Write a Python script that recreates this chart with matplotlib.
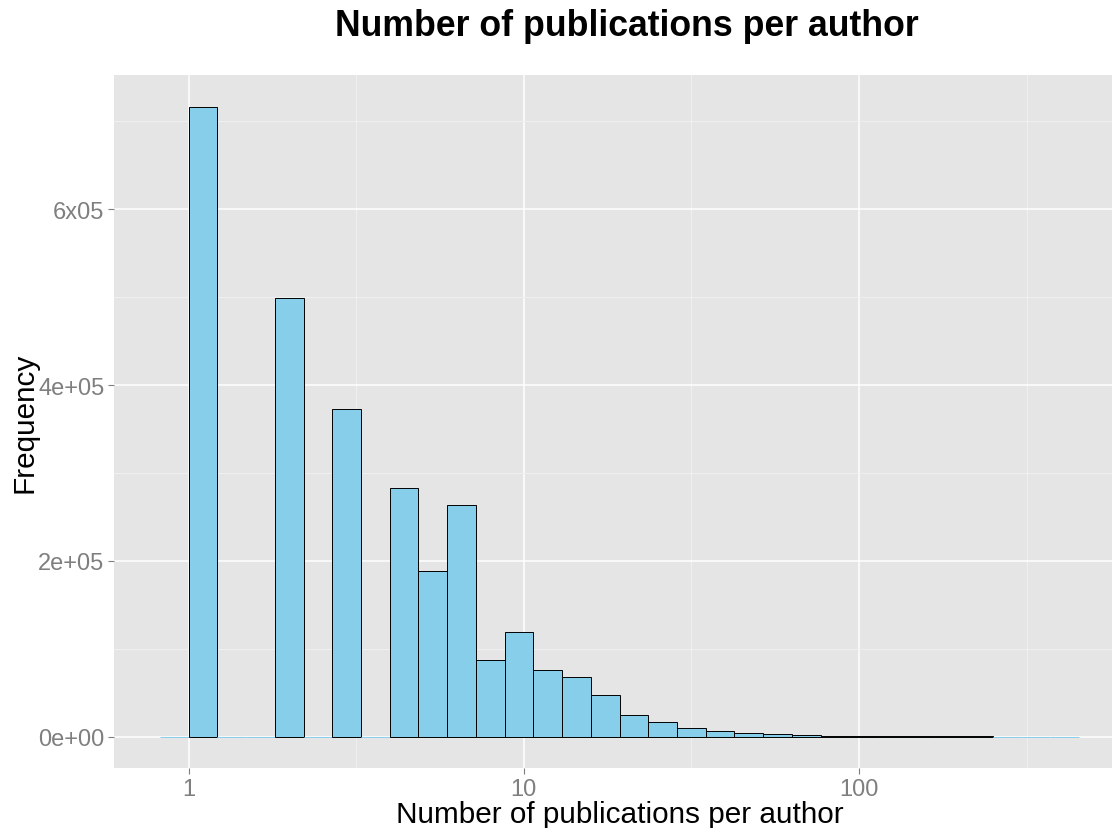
import numpy as np
import matplotlib
matplotlib.use("Agg")
import matplotlib.pyplot as plt
from matplotlib.ticker import FixedLocator, NullFormatter

plt.rcParams['font.family'] = ['Liberation Sans', 'DejaVu Sans']

# histogram of log10(publications), equal-width bins in log space
binwidth = 0.0857
bin_index = list(range(-1, 31))
counts = [0, 717000, 0, 0, 499000, 0, 373000, 0, 283000, 188500,
          264000, 87000, 119000, 76000, 68000, 47800, 25000, 16100, 10000, 6000,
          4300, 2600, 1500, 1000, 700, 450, 300, 180, 100, 0,
          0, 0]
x_ticks = [1, 10, 100]
x_ticklabels = ["1", "10", "100"]
y_ticks = [0, 200000, 400000, 600000]
y_ticklabels = ["0e+00", "2e+05", "4e+05", "6x05"]

W, H = 1112, 829
fig = plt.figure(figsize=(W / 100, H / 100), dpi=100)
ax = fig.add_axes([114 / W, (H - 769) / H, (1125 - 114) / W, (769 - 76) / H])
ax.set_facecolor("#E5E5E5")
for s in ax.spines.values():
    s.set_visible(False)

ax.set_xscale("log")

edges_lo = 10 ** (np.array(bin_index) * binwidth)
edges_hi = 10 ** ((np.array(bin_index) + 1) * binwidth)
cnt = np.array(counts)
edgecols = ["black" if c > 0 else "#87CEEB" for c in cnt]
ax.bar(edges_lo, cnt, width=edges_hi - edges_lo, align="edge",
       color="#87CEEB", edgecolor=edgecols, linewidth=0.7, zorder=3)

lo = -binwidth
hi = 31 * binwidth
pad = (hi - lo) * 0.05
ax.set_xlim(10 ** (lo - pad), 10 ** (hi + pad))
ymax = max(counts)
ax.set_ylim(-0.05 * ymax, 1.05 * ymax)

ax.set_xticks(x_ticks)
ax.set_xticklabels(x_ticklabels)
ax.xaxis.set_minor_locator(FixedLocator([10 ** 0.5, 10 ** 1.5, 10 ** 2.5]))
ax.xaxis.set_minor_formatter(NullFormatter())
ax.set_yticks(y_ticks)
ax.set_yticklabels(y_ticklabels)
ax.yaxis.set_minor_locator(FixedLocator([100000, 300000, 500000, 700000]))

ax.tick_params(which="major", length=4, width=0.8, color="#7F7F7F",
               labelcolor="#7F7F7F", labelsize=17, pad=3)
ax.tick_params(which="minor", length=0)

ax.grid(which="major", color="white", linewidth=1.1, zorder=0)
ax.grid(which="minor", color="#F2F2F2", linewidth=0.6, zorder=0)
ax.set_axisbelow(True)

ax.set_xlabel("Number of publications per author", fontsize=21.4, labelpad=0)
ax.set_ylabel("Frequency", fontsize=21.4, labelpad=0)
fig.text(627 / W, 1 - 27 / H, "Number of publications per author",
         ha="center", va="center", fontsize=25.7, fontweight="bold")

fig.savefig("out.png", dpi=100)
